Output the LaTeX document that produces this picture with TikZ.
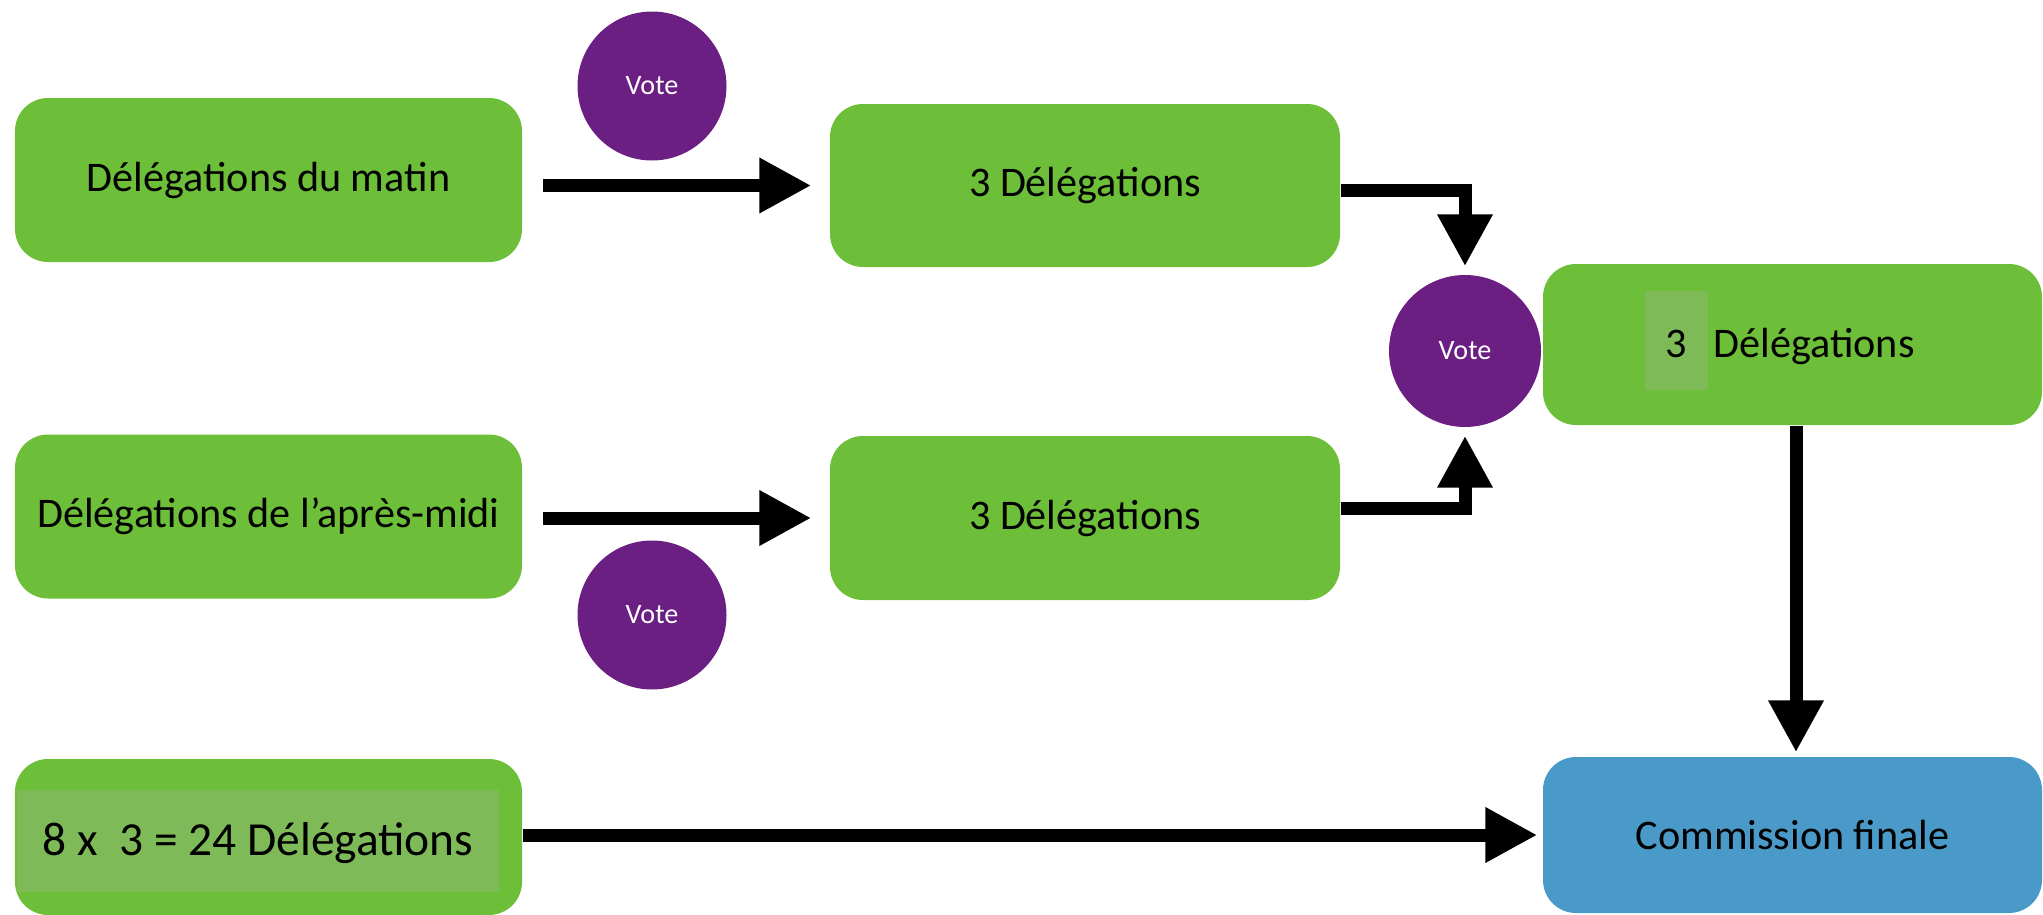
\documentclass[tikz,border=0pt]{standalone}
\usepackage{fontspec}
\setmainfont{Carlito}
\usetikzlibrary{arrows.meta}
\definecolor{vert}{HTML}{6DBE38}
\definecolor{vertclair}{HTML}{7EBB58}
\definecolor{pourpre}{HTML}{6B1F82}
\definecolor{bleu}{HTML}{4A9AC9}
\begin{document}
\begin{tikzpicture}[boite/.style={fill=vert, rounded corners=0.33cm, minimum width=5.07cm, minimum height=1.64cm, inner sep=0pt, font=\fontsize{12}{14}\selectfont},
    vote/.style={circle, fill=pourpre, text=white, minimum size=1.49cm, inner sep=0pt, font=\fontsize{8}{9}\selectfont},
    fleche/.style={line width=0.13cm, -{Triangle[length=0.52cm, width=0.52cm]}}]
        \useasboundingbox (0,0) rectangle (20.43,-9.15);
        \node[boite] at (2.685,-1.80) (matin) {Délégations du matin};
        \node[boite, below of=matin, node distance=3.365cm] (apresmidi) {Délégations de l’après-midi};
        \node[boite, minimum height=1.56cm] at (2.685,-8.37) (total) { };
        \node[anchor=base, fill=vertclair, minimum width=4.82cm, text height=0.65cm, text depth=0.365cm, inner sep=0pt, font=\fontsize{13.5}{15}\selectfont] at (2.58,-8.55) (totalbis) {8 x~~3 = 24 Délégations};
        \node[boite, minimum width=5.1cm, minimum height=1.63cm] at (10.85,-1.855) (trois1) {3 Délégations};
        \node[boite, minimum width=5.1cm, below of=trois1, node distance=3.325cm] (trois2) {3 Délégations};
        \node[boite, minimum width=4.99cm, minimum height=1.61cm] at (17.925,-3.445) (trois3) { };
        \node[anchor=base, fill=vertclair, minimum width=0.63cm, text height=0.66cm, text depth=0.33cm, inner sep=0pt, font=\fontsize{12}{14}\selectfont] at (16.765,-3.57) (trois3num) {3};
        \node[anchor=base west, inner sep=0pt, font=\fontsize{12}{14}\selectfont] at (17.13,-3.57) (trois3txt) {Délégations};
        \node[boite, fill=bleu, minimum width=4.99cm, minimum height=1.56cm] at (17.925,-8.35) (commission) {Commission finale};
        \node[vote] at (6.52,-0.86) (vote1) {Vote};
        \node[vote] at (6.52,-6.15) (vote2) {Vote};
        \node[vote, minimum size=1.52cm] at (14.65,-3.51) (vote3) {Vote};
        \draw[fleche, shorten <=0.2cm, shorten >=0.18cm] (matin.east |- trois1) -- (trois1);
        \draw[fleche, shorten <=0.2cm, shorten >=0.18cm] (apresmidi.east |- trois2) -- (trois2);
        \draw[fleche, shorten >=0.08cm] ([yshift=-0.05cm]trois1.east) -| (vote3.north);
        \draw[fleche, shorten >=0.08cm] ([yshift=0.1cm]trois2.east) -| (vote3.south);
        \draw[fleche, shorten >=0.04cm] (trois3.south -| 17.96,0) -- (commission.north -| 17.96,0);
        \draw[fleche, shorten >=0.05cm] (total.east |- commission) -- (commission);
    \end{tikzpicture}
\end{document}
